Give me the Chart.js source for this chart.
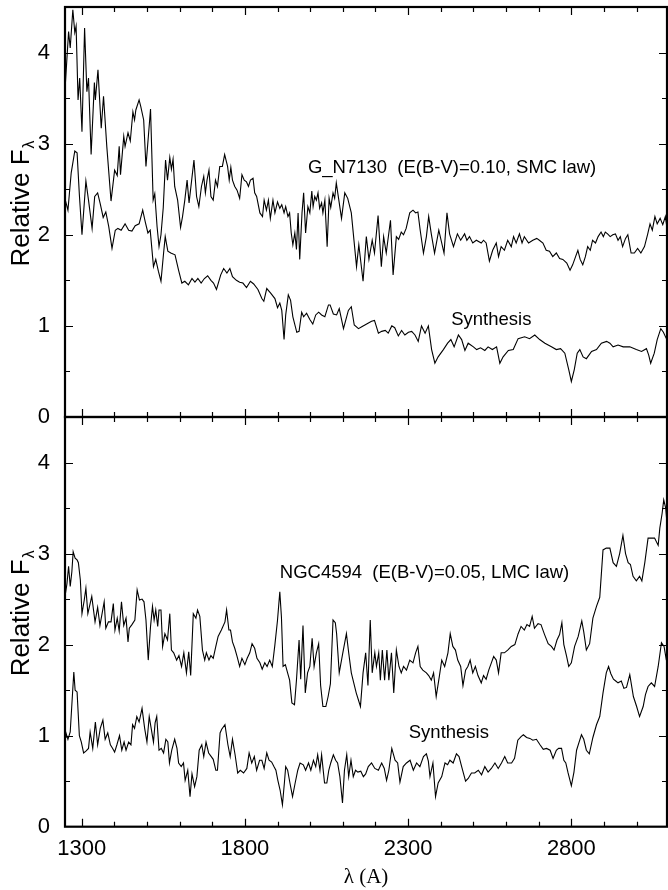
<!DOCTYPE html>
<html>
<head>
<meta charset="utf-8">
<title>G_N7130 and NGC4594 UV spectra</title>
<script src="https://cdn.jsdelivr.net/npm/chart.js@4.4.0/dist/chart.umd.min.js"></script>
<style>
  html, body { margin: 0; padding: 0; background: #fff; }
  #wrap { position: relative; width: 668px; height: 890px; overflow: hidden; }
  #wrap canvas { position: absolute; left: 0; }
  #topPanel { top: 0; }
  #bottomPanel { top: 410px; }
</style>
</head>
<body>
<div id="wrap">
  <canvas id="topPanel" width="668" height="440"></canvas>
  <canvas id="bottomPanel" width="668" height="480"></canvas>
</div>
<script>
// axis ranges and tick labels
const waveMin = 1249;
const waveMax = 3093;
const fluxMax = 4.5;
const xTickValues = [1300, 1800, 2300, 2800];
const yTickValues = [0, 1, 2, 3, 4];
const xMinorStep = 100;
const yMinorStep = 0.5;

// top panel: G_N7130 observed
const topObsWave = [
  1250, 1260, 1265, 1273, 1279, 1283, 1289, 1294, 1301, 1309,
  1316, 1321, 1329, 1339, 1342, 1350, 1360, 1367, 1377, 1390,
  1401, 1409, 1415, 1419, 1429, 1433, 1442, 1449, 1457, 1462,
  1466, 1476, 1481, 1490, 1497, 1511, 1519, 1524, 1531, 1537,
  1543, 1550, 1557, 1563, 1570, 1575, 1580, 1585, 1594, 1603,
  1609, 1616, 1623, 1629, 1637, 1644, 1652, 1659, 1667, 1674,
  1679, 1684, 1690, 1696, 1703, 1710, 1716, 1723, 1731, 1738,
  1747, 1752, 1757, 1762, 1769, 1776, 1784, 1791, 1798, 1805,
  1811, 1817, 1825, 1830, 1836, 1846, 1854, 1859, 1866, 1872,
  1878, 1886, 1892, 1900, 1907, 1913, 1920, 1925, 1932, 1937,
  1942, 1947, 1953, 1958, 1963, 1968, 1975, 1980, 1986, 1993,
  1999, 2005, 2009, 2014, 2019, 2024, 2029, 2035, 2039, 2045,
  2052, 2058, 2063, 2070, 2075, 2080, 2096, 2106, 2115, 2126,
  2142, 2149, 2162, 2172, 2180, 2190, 2197, 2208, 2218, 2225,
  2233, 2246, 2254, 2264, 2271, 2279, 2286, 2294, 2305, 2315,
  2323, 2330, 2337, 2347, 2356, 2363, 2371, 2381, 2394, 2410,
  2419, 2427, 2439, 2451, 2461, 2473, 2480, 2488, 2498, 2509,
  2524, 2531, 2539, 2549, 2559, 2570, 2577, 2585, 2595, 2605,
  2616, 2623, 2631, 2641, 2649, 2656, 2669, 2682, 2694, 2702,
  2713, 2723, 2733, 2743, 2754, 2764, 2774, 2786, 2796, 2804,
  2813, 2820, 2827, 2835, 2843, 2850, 2858, 2865, 2874, 2882,
  2891, 2898, 2904, 2911, 2919, 2927, 2935, 2943, 2950, 2957,
  2966, 2973, 2983, 2993, 3003, 3013, 3024, 3034, 3041, 3048,
  3056, 3063, 3072, 3080, 3088, 3094
];
const topObsFlux = [
  3.65, 4.23, 4.05, 4.47, 4.22, 4.29, 3.48, 3.72, 3.13, 4.27,
  3.57, 3.72, 2.88, 3.67, 3.48, 3.81, 3.17, 3.52, 2.97, 2.37,
  2.71, 2.65, 2.97, 2.66, 3.08, 2.97, 3.12, 3.03, 3.35, 3.26,
  3.37, 3.48, 3.41, 3.26, 2.75, 3.38, 2.38, 2.45, 2.09, 1.87,
  2.00, 2.30, 2.82, 2.60, 2.85, 2.72, 2.83, 2.53, 2.38, 2.08,
  2.20, 2.38, 2.60, 2.35, 2.60, 2.82, 2.42, 2.31, 2.53, 2.64,
  2.46, 2.60, 2.71, 2.42, 2.38, 2.60, 2.53, 2.75, 2.75, 2.88,
  2.75, 2.60, 2.74, 2.60, 2.53, 2.49, 2.40, 2.66, 2.60, 2.58,
  2.53, 2.60, 2.62, 2.46, 2.42, 2.24, 2.20, 2.38, 2.27, 2.38,
  2.18, 2.38, 2.24, 2.36, 2.29, 2.33, 2.24, 2.31, 2.20, 2.24,
  2.02, 1.89, 2.02, 1.84, 2.24, 1.73, 2.24, 2.46, 2.02, 2.31,
  2.24, 2.48, 2.31, 2.42, 2.38, 2.46, 2.29, 2.35, 2.24, 2.38,
  1.87, 2.40, 2.30, 2.46, 2.40, 2.57, 2.18, 2.46, 2.40, 2.24,
  1.65, 1.89, 1.49, 1.98, 1.73, 1.94, 1.80, 2.21, 1.65, 1.98,
  1.80, 2.16, 1.56, 1.98, 1.95, 2.03, 2.00, 2.07, 2.24, 2.27,
  2.24, 2.25, 2.05, 1.80, 1.98, 2.20, 2.01, 1.80, 2.05, 1.80,
  2.24, 2.01, 1.87, 2.01, 1.94, 2.01, 1.94, 1.98, 1.91, 1.94,
  1.91, 1.94, 1.91, 1.71, 1.83, 1.91, 1.76, 1.87, 1.83, 1.94,
  1.87, 1.98, 1.91, 2.01, 1.91, 1.98, 1.91, 1.94, 1.96, 1.94,
  1.91, 1.83, 1.82, 1.76, 1.80, 1.74, 1.73, 1.69, 1.61, 1.67,
  1.76, 1.83, 1.73, 1.67, 1.76, 1.87, 1.83, 1.94, 1.91, 1.98,
  2.03, 1.98, 2.03, 2.01, 1.98, 2.00, 2.01, 1.94, 1.98, 1.87,
  1.96, 2.00, 1.80, 1.80, 1.85, 1.80, 1.87, 2.01, 2.12, 2.05,
  2.20, 2.12, 2.18, 2.11, 2.20, 2.05
];

// top panel: synthesis
const topSynWave = [
  1250, 1258, 1268, 1279, 1286, 1293, 1301, 1313, 1321, 1332,
  1340, 1349, 1357, 1366, 1374, 1383, 1393, 1403, 1411, 1421,
  1433, 1444, 1454, 1464, 1476, 1487, 1495, 1503, 1510, 1520,
  1527, 1535, 1543, 1551, 1556, 1564, 1573, 1586, 1597, 1607,
  1616, 1627, 1638, 1647, 1656, 1666, 1676, 1686, 1696, 1704,
  1713, 1726, 1735, 1745, 1754, 1762, 1774, 1784, 1794, 1805,
  1817, 1827, 1840, 1852, 1858, 1867, 1879, 1892, 1900, 1907,
  1913, 1920, 1925, 1933, 1940, 1947, 1959, 1966, 1974, 1980,
  1989, 1999, 2008, 2017, 2026, 2035, 2045, 2056, 2061, 2071,
  2081, 2089, 2102, 2117, 2126, 2135, 2148, 2158, 2173, 2188,
  2197, 2209, 2219, 2230, 2239, 2250, 2259, 2270, 2280, 2290,
  2301, 2311, 2321, 2331, 2341, 2352, 2362, 2372, 2382, 2392,
  2408, 2421, 2431, 2441, 2454, 2464, 2474, 2484, 2500, 2510,
  2522, 2535, 2545, 2558, 2571, 2581, 2591, 2607, 2622, 2637,
  2657, 2672, 2688, 2703, 2719, 2739, 2754, 2767, 2780, 2792,
  2800, 2809, 2818, 2826, 2836, 2846, 2862, 2877, 2892, 2908,
  2918, 2928, 2943, 2959, 2979, 2999, 3015, 3030, 3037, 3043,
  3054, 3063, 3074, 3082, 3091
];
const topSynFlux = [
  2.38, 2.27, 2.68, 2.92, 2.90, 2.44, 2.00, 2.59, 2.38, 2.07,
  2.42, 2.46, 2.34, 2.19, 2.25, 2.09, 1.85, 2.05, 2.07, 2.05,
  2.12, 2.05, 2.04, 2.10, 2.12, 2.27, 2.14, 2.02, 2.05, 1.65,
  1.73, 1.60, 1.49, 1.80, 1.98, 1.82, 1.80, 1.78, 1.61, 1.47,
  1.49, 1.45, 1.52, 1.48, 1.52, 1.47, 1.52, 1.55, 1.50, 1.47,
  1.40, 1.56, 1.63, 1.58, 1.63, 1.54, 1.50, 1.48, 1.47, 1.42,
  1.49, 1.46, 1.40, 1.30, 1.27, 1.41, 1.36, 1.30, 1.20, 1.25,
  1.17, 0.85, 1.12, 1.34, 1.28, 1.10, 0.93, 0.94, 1.15, 1.10,
  1.14, 1.07, 1.02, 1.12, 1.15, 1.12, 1.10, 1.23, 1.23, 1.13,
  1.12, 1.19, 0.97, 1.17, 1.21, 1.01, 0.97, 0.99, 1.02, 1.05,
  1.06, 0.92, 0.94, 0.95, 0.92, 1.00, 0.98, 0.89, 0.95, 0.90,
  0.93, 0.94, 0.90, 0.83, 1.00, 0.92, 1.00, 0.74, 0.59, 0.66,
  0.74, 0.81, 0.85, 0.77, 0.90, 0.85, 0.73, 0.81, 0.77, 0.74,
  0.76, 0.73, 0.77, 0.74, 0.77, 0.59, 0.66, 0.73, 0.74, 0.86,
  0.88, 0.86, 0.90, 0.85, 0.81, 0.77, 0.74, 0.75, 0.70, 0.52,
  0.39, 0.52, 0.70, 0.74, 0.66, 0.64, 0.72, 0.74, 0.81, 0.83,
  0.81, 0.77, 0.79, 0.77, 0.77, 0.74, 0.72, 0.75, 0.68, 0.59,
  0.70, 0.85, 0.97, 0.93, 0.86
];

// bottom panel: NGC4594 observed
const botObsWave = [
  1250, 1255, 1260, 1265, 1270, 1274, 1280, 1286, 1290, 1296,
  1301, 1308, 1313, 1319, 1331, 1341, 1349, 1356, 1369, 1374,
  1382, 1390, 1397, 1402, 1409, 1415, 1422, 1429, 1436, 1442,
  1446, 1454, 1463, 1470, 1477, 1485, 1491, 1497, 1504, 1511,
  1517, 1522, 1527, 1533, 1537, 1543, 1548, 1555, 1563, 1570,
  1575, 1582, 1591, 1598, 1606, 1613, 1621, 1628, 1634, 1642,
  1650, 1655, 1662, 1670, 1677, 1682, 1690, 1696, 1703, 1711,
  1718, 1728, 1739, 1744, 1751, 1756, 1762, 1769, 1776, 1784,
  1791, 1800, 1807, 1815, 1822, 1830, 1837, 1846, 1853, 1861,
  1868, 1876, 1884, 1892, 1900, 1907, 1912, 1917, 1924, 1930,
  1937, 1944, 1952, 1958, 1966, 1971, 1978, 1985, 1992, 1999,
  2006, 2012, 2019, 2026, 2032, 2039, 2048, 2055, 2062, 2070,
  2077, 2081, 2089, 2100, 2111, 2118, 2126, 2141, 2154, 2162,
  2170, 2177, 2184, 2190, 2198, 2203, 2210, 2215, 2221, 2228,
  2235, 2241, 2249, 2256, 2264, 2272, 2279, 2286, 2295, 2305,
  2315, 2323, 2330, 2337, 2345, 2356, 2363, 2371, 2378, 2386,
  2396, 2403, 2412, 2422, 2429, 2437, 2445, 2452, 2461, 2468,
  2476, 2483, 2490, 2498, 2506, 2514, 2524, 2531, 2539, 2547,
  2555, 2562, 2570, 2577, 2585, 2595, 2605, 2616, 2627, 2637,
  2646, 2656, 2664, 2672, 2680, 2687, 2698, 2707, 2718, 2729,
  2739, 2747, 2756, 2764, 2771, 2777, 2785, 2792, 2800, 2810,
  2821, 2832, 2838, 2846, 2856, 2866, 2877, 2887, 2892, 2897,
  2907, 2918, 2928, 2938, 2948, 2958, 2966, 2974, 2981, 2989,
  2999, 3009, 3016, 3025, 3035, 3045, 3055, 3066, 3071, 3078,
  3083, 3089, 3093
];
const botObsFlux = [
  2.55, 2.67, 2.86, 2.64, 2.80, 3.02, 2.95, 2.93, 2.90, 2.71,
  2.34, 2.49, 2.62, 2.34, 2.53, 2.25, 2.41, 2.21, 2.47, 2.18,
  2.25, 2.25, 2.45, 2.16, 2.29, 2.15, 2.47, 2.21, 2.29, 2.03,
  2.18, 2.22, 2.27, 2.60, 2.49, 2.50, 2.47, 2.27, 1.83, 2.20,
  2.42, 2.27, 2.38, 2.20, 2.38, 2.38, 1.98, 2.12, 2.05, 2.34,
  1.94, 1.91, 1.83, 1.88, 1.76, 1.91, 1.69, 1.92, 1.66, 2.34,
  2.29, 2.38, 2.31, 1.94, 1.83, 1.91, 1.83, 1.88, 1.85, 1.98,
  2.09, 2.16, 2.25, 2.38, 2.16, 2.16, 2.03, 1.96, 1.87, 1.76,
  1.85, 1.78, 1.85, 1.91, 2.01, 1.96, 1.85, 1.80, 1.73, 1.80,
  1.76, 1.83, 1.76, 2.00, 2.27, 2.58, 2.30, 1.76, 1.78, 1.70,
  1.61, 1.36, 1.34, 1.61, 2.05, 1.62, 2.21, 1.47, 1.69, 1.76,
  2.07, 1.76, 1.91, 2.01, 1.55, 1.32, 1.32, 1.43, 1.57, 2.27,
  2.24, 2.12, 1.69, 1.91, 2.12, 1.91, 1.69, 1.47, 1.32, 1.69,
  1.91, 1.55, 2.27, 1.69, 1.91, 1.76, 1.91, 1.61, 1.94, 1.61,
  1.94, 1.61, 1.91, 1.47, 1.94, 1.76, 1.69, 1.76, 1.72, 1.83,
  1.80, 1.91, 1.98, 1.76, 1.72, 1.69, 1.66, 1.61, 1.69, 1.43,
  1.66, 1.83, 1.76, 1.91, 2.12, 1.98, 1.94, 1.83, 1.76, 1.55,
  1.72, 1.76, 1.83, 1.69, 1.76, 1.66, 1.58, 1.66, 1.62, 1.72,
  1.80, 1.87, 1.83, 1.69, 1.91, 1.91, 1.94, 1.98, 2.00, 2.12,
  2.20, 2.16, 2.22, 2.20, 2.31, 2.18, 2.23, 2.22, 2.11, 2.01,
  1.98, 1.94, 2.05, 2.11, 2.24, 2.00, 1.88, 1.76, 1.80, 1.98,
  2.09, 2.26, 2.14, 1.94, 2.01, 2.29, 2.42, 2.52, 2.78, 3.04,
  3.06, 3.06, 2.90, 2.86, 3.00, 3.20, 3.00, 2.90, 2.88, 2.75,
  2.70, 2.75, 2.70, 2.90, 3.17, 3.17, 3.17, 3.09, 3.28, 3.44,
  3.59, 3.50, 3.33
];

// bottom panel: synthesis
const botSynWave = [
  1250, 1252, 1258, 1265, 1276, 1280, 1286, 1293, 1299, 1306,
  1313, 1321, 1326, 1334, 1342, 1349, 1357, 1365, 1372, 1380,
  1388, 1395, 1401, 1408, 1416, 1423, 1430, 1436, 1444, 1451,
  1456, 1462, 1469, 1476, 1485, 1493, 1500, 1507, 1513, 1520,
  1525, 1530, 1537, 1544, 1551, 1558, 1564, 1569, 1576, 1585,
  1592, 1597, 1605, 1612, 1617, 1625, 1632, 1638, 1646, 1653,
  1660, 1668, 1674, 1681, 1689, 1697, 1703, 1711, 1716, 1724,
  1729, 1739, 1748, 1755, 1762, 1770, 1778, 1786, 1796, 1806,
  1813, 1821, 1829, 1836, 1845, 1852, 1859, 1867, 1874, 1882,
  1889, 1895, 1901, 1908, 1915, 1921, 1925, 1931, 1938, 1946,
  1954, 1962, 1969, 1979, 1986, 1995, 2002, 2010, 2017, 2023,
  2030, 2035, 2044, 2051, 2057, 2063, 2071, 2078, 2084, 2091,
  2099, 2105, 2112, 2118, 2125, 2132, 2139, 2146, 2155, 2163,
  2170, 2178, 2188, 2198, 2209, 2219, 2227, 2234, 2241, 2250,
  2260, 2268, 2275, 2285, 2295, 2306, 2316, 2326, 2336, 2347,
  2356, 2362, 2367, 2376, 2384, 2392, 2403, 2413, 2421, 2428,
  2438, 2448, 2456, 2464, 2476, 2484, 2494, 2504, 2515, 2525,
  2535, 2545, 2555, 2566, 2576, 2586, 2596, 2605, 2617, 2626,
  2636, 2646, 2653, 2663, 2673, 2682, 2693, 2704, 2714, 2724,
  2735, 2744, 2754, 2761, 2770, 2777, 2783, 2790, 2800, 2808,
  2816, 2823, 2831, 2838, 2846, 2855, 2866, 2877, 2887, 2897,
  2907, 2914, 2921, 2929, 2936, 2943, 2953, 2961, 2969, 2979,
  2990, 3000, 3009, 3020, 3027, 3035, 3045, 3055, 3066, 3076,
  3084, 3091
];
const botSynFlux = [
  0.98, 1.03, 0.96, 1.04, 1.70, 1.50, 1.48, 1.00, 0.93, 0.81,
  0.83, 0.86, 1.04, 0.86, 1.15, 0.90, 1.08, 1.17, 0.96, 1.03,
  0.90, 0.86, 0.82, 0.90, 1.00, 0.84, 0.93, 0.84, 0.93, 0.90,
  1.12, 1.08, 1.21, 1.15, 1.30, 1.08, 0.93, 1.21, 1.08, 0.93,
  1.14, 1.21, 0.84, 0.86, 0.81, 0.96, 0.93, 0.70, 0.84, 0.96,
  0.86, 0.70, 0.66, 0.70, 0.51, 0.62, 0.33, 0.58, 0.44, 0.55,
  0.84, 0.90, 0.77, 0.93, 0.81, 0.77, 0.74, 0.62, 0.62, 1.03,
  1.07, 1.12, 0.90, 0.77, 0.96, 0.79, 0.59, 0.62, 0.59, 0.64,
  0.81, 0.70, 0.77, 0.62, 0.73, 0.73, 0.64, 0.81, 0.73, 0.71,
  0.66, 0.62, 0.51, 0.40, 0.24, 0.48, 0.66, 0.62, 0.48, 0.33,
  0.48, 0.62, 0.70, 0.68, 0.62, 0.70, 0.62, 0.73, 0.66, 0.79,
  0.62, 0.79, 0.48, 0.48, 0.62, 0.70, 0.79, 0.73, 0.70, 0.55,
  0.26, 0.62, 0.79, 0.55, 0.73, 0.55, 0.62, 0.60, 0.61, 0.55,
  0.58, 0.66, 0.70, 0.64, 0.62, 0.70, 0.64, 0.51, 0.62, 0.86,
  0.73, 0.70, 0.49, 0.66, 0.70, 0.73, 0.62, 0.70, 0.66, 0.77,
  0.80, 0.72, 0.55, 0.70, 0.33, 0.48, 0.55, 0.70, 0.68, 0.73,
  0.70, 0.80, 0.77, 0.66, 0.50, 0.53, 0.59, 0.59, 0.62, 0.57,
  0.66, 0.60, 0.64, 0.70, 0.64, 0.70, 0.77, 0.70, 0.70, 0.75,
  0.95, 0.99, 1.01, 0.98, 0.97, 0.95, 0.96, 0.90, 0.85, 0.86,
  0.84, 0.75, 0.84, 0.86, 0.86, 0.73, 0.70, 0.59, 0.45, 0.60,
  0.84, 0.92, 1.01, 0.96, 0.84, 0.80, 0.98, 1.12, 1.21, 1.47,
  1.69, 1.76, 1.68, 1.62, 1.60, 1.58, 1.60, 1.52, 1.53, 1.67,
  1.43, 1.32, 1.21, 1.32, 1.45, 1.54, 1.58, 1.54, 1.76, 2.02,
  1.98, 1.83
];

const sansFont = '"Liberation Sans", Arial, Helvetica, sans-serif';
const serifFont = '"Liberation Serif", "Times New Roman", serif';

// pair up wavelength and flux arrays into points
function toPoints(waves, fluxes) {
  var pts = [];
  for (let i = 0; i < Math.min(waves.length, fluxes.length); i++) {
    pts.push({ x: waves[i], y: fluxes[i] });
  }
  return pts;
}

function spectrum(waves, fluxes) {
  return {
    data: toPoints(waves, fluxes),
    borderColor: '#000',
    borderWidth: 1.1,
    pointRadius: 0,
    tension: 0,
    fill: false
  };
}

// frame, inward ticks, y title and the text notes
const panelFrame = {
  id: 'panelFrame',
  afterDatasetsDraw(chart, args, opts) {
    const ctx = chart.ctx;
    const a = chart.chartArea;
    const xs = chart.scales.x;
    const ys = chart.scales.y;
    ctx.save();
    ctx.strokeStyle = '#000';
    ctx.fillStyle = '#000';

    // minor ticks every 100 A, long ones at the labelled values
    ctx.lineWidth = 1.2;
    ctx.beginPath();
    var firstTick = Math.ceil(waveMin / xMinorStep) * xMinorStep;
    for (let w = firstTick; w <= waveMax; w += xMinorStep) {
      const px = Math.round(xs.getPixelForValue(w)) + 0.5;
      const len = xTickValues.includes(w) ? 8 : 5;
      ctx.moveTo(px, a.bottom); ctx.lineTo(px, a.bottom - len);
      ctx.moveTo(px, a.top); ctx.lineTo(px, a.top + len);
    }
    for (let v = yMinorStep; v < fluxMax; v += yMinorStep) {
      const py = Math.round(ys.getPixelForValue(v)) + 0.5;
      const len = Number.isInteger(v) ? 8 : 5;
      ctx.moveTo(a.left, py); ctx.lineTo(a.left + len, py);
      ctx.moveTo(a.right, py); ctx.lineTo(a.right - len, py);
    }
    ctx.stroke();

    ctx.lineWidth = 2.2;
    ctx.strokeRect(a.left, a.top, a.right - a.left, a.bottom - a.top);

    // y axis title with subscript lambda
    ctx.save();
    ctx.translate(28.5, (a.top + a.bottom) / 2 - 8);
    ctx.rotate(-Math.PI / 2);
    ctx.textBaseline = 'alphabetic';
    ctx.textAlign = 'left';
    ctx.font = '26px ' + sansFont;
    const mainW = ctx.measureText('Relative F').width;
    ctx.font = '16px ' + sansFont;
    const subW = ctx.measureText('λ').width;
    const x0 = -(mainW + subW) / 2;
    ctx.font = '26px ' + sansFont;
    ctx.fillText('Relative F', x0, 0);
    ctx.font = '16px ' + sansFont;
    ctx.fillText('λ', x0 + mainW + 1, 5);
    ctx.restore();

    // labels inside the panel
    ctx.font = '18.5px ' + sansFont;
    ctx.textAlign = 'left';
    ctx.textBaseline = 'alphabetic';
    (opts.notes || []).forEach(n => {
      ctx.fillText(n.text, xs.getPixelForValue(n.wave), ys.getPixelForValue(n.flux));
    });
    ctx.restore();
  }
};

function panelOptions(showX, notes) {
  return {
    responsive: false,
    animation: false,
    events: [],
    layout: { padding: { top: 7, bottom: showX ? 0 : 23, left: 0, right: 1 } },
    plugins: {
      legend: { display: false },
      tooltip: { enabled: false },
      panelFrame: { notes: notes }
    },
    scales: {
      x: {
        type: 'linear',
        min: waveMin,
        max: waveMax,
        display: showX,
        grid: { display: false, drawTicks: false },
        border: { display: false },
        ticks: {
          color: '#000',
          font: { family: sansFont, size: 22 },
          padding: 9,
          maxRotation: 0,
          callback: v => String(v)
        },
        title: {
          display: showX,
          text: 'λ (A)',
          color: '#000',
          font: { family: serifFont, size: 21 },
          padding: 0
        },
        afterBuildTicks: s => { s.ticks = xTickValues.map(v => ({ value: v })); },
        afterFit: s => {
          if (showX) s.height = 63.3;
          s.paddingLeft = 0;
          s.paddingRight = 0;
        }
      },
      y: {
        type: 'linear',
        min: 0,
        max: fluxMax,
        grid: { display: false, drawTicks: false },
        border: { display: false },
        ticks: {
          color: '#000',
          font: { family: sansFont, size: 22 },
          padding: 15,
          callback: v => String(v)
        },
        afterBuildTicks: s => { s.ticks = yTickValues.map(v => ({ value: v })); },
        afterFit: s => { s.width = 65; s.paddingTop = 0; s.paddingBottom = 0; }
      }
    }
  };
}

new Chart(document.getElementById('topPanel'), {
  type: 'line',
  data: { datasets: [spectrum(topObsWave, topObsFlux), spectrum(topSynWave, topSynFlux)] },
  options: panelOptions(false, [
    { text: 'G_N7130  (E(B-V)=0.10, SMC law)', wave: 1993, flux: 2.68 },
    { text: 'Synthesis', wave: 2432, flux: 1.01 }
  ]),
  plugins: [panelFrame]
});

new Chart(document.getElementById('bottomPanel'), {
  type: 'line',
  data: { datasets: [spectrum(botObsWave, botObsFlux), spectrum(botSynWave, botSynFlux)] },
  options: panelOptions(true, [
    { text: 'NGC4594  (E(B-V)=0.05, LMC law)', wave: 1907, flux: 2.73 },
    { text: 'Synthesis', wave: 2302, flux: 0.97 }
  ]),
  plugins: [panelFrame]
});
</script>
</body>
</html>
